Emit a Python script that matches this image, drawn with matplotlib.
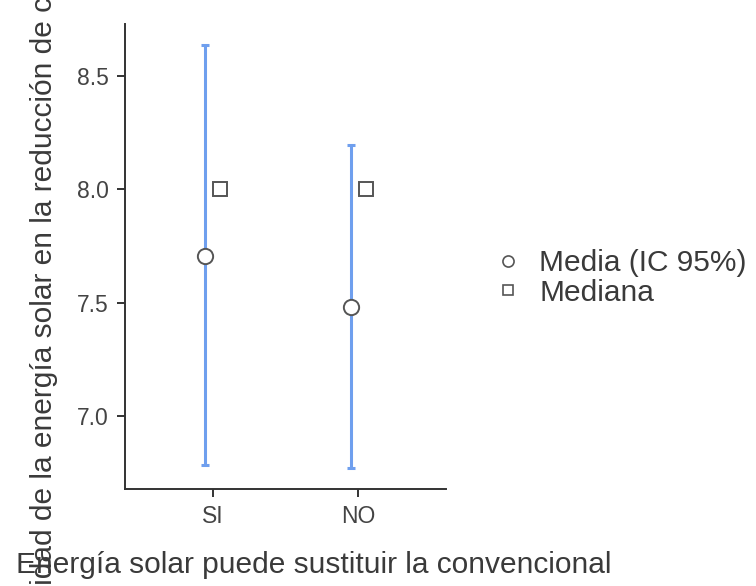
import numpy as np
import matplotlib
matplotlib.use("Agg")
import matplotlib.pyplot as plt
from matplotlib.lines import Line2D

plt.rcParams['font.family'] = ['Liberation Sans', 'DejaVu Sans']

# data
categories = ['SI', 'NO']
means = [7.707, 7.482]
ci_low = [6.782, 6.768]
ci_high = [8.637, 8.196]
medians = [8.0, 8.0]

xlabel = 'Energía solar puede sustituir la convencional'
ylabel = 'Utilidad de la energía solar en la reducción de costos'

text_col = '#3a3a3a'
line_col = '#6f9fee'
edge_col = '#555555'

fig = plt.figure(figsize=(7.56, 5.86), dpi=100)
ax = fig.add_axes([0.1653, 0.1655, 0.4246, 0.7935])

x = np.arange(len(categories))
m = np.array(means)
err = np.vstack([m - np.array(ci_low), np.array(ci_high) - m])

ax.errorbar(x - 0.052, m, yerr=err, fmt='none', ecolor=line_col,
            elinewidth=2.2, capsize=2.8, capthick=2.2, zorder=2)
ax.plot(x - 0.052, m, 'o', ms=11, mfc='white', mec=edge_col, mew=1.4, zorder=3)
ax.plot(x + 0.05, medians, 's', ms=9.5, mfc='white', mec=edge_col, mew=1.4,
        zorder=3)

ax.set_xlim(-0.6, 1.6)
ax.set_ylim(6.677, 8.73)
ax.set_xticks(x)
ax.set_xticklabels(categories)
ax.set_yticks([7.0, 7.5, 8.0, 8.5])
ax.set_yticklabels(['7.0', '7.5', '8.0', '8.5'])

for side in ['top', 'right']:
    ax.spines[side].set_visible(False)
for side in ['left', 'bottom']:
    ax.spines[side].set_color('#333333')
    ax.spines[side].set_linewidth(1.4)
ax.tick_params(axis='both', colors='#333333', width=1.4, length=5.5,
               labelsize=16.5, labelcolor='#444444', pad=6)

fig.text(314 / 756, 1 - 565 / 586, xlabel, ha='center', va='center',
         fontsize=21.5, color=text_col)
fig.text(44 / 756, 0.528, ylabel, ha='center', va='center', rotation=90,
         fontsize=21.5, color=text_col)

handles = [
    Line2D([], [], ls='none', marker='o', ms=8, mfc='white', mec=edge_col,
           mew=1.2),
    Line2D([], [], ls='none', marker='s', ms=7.5, mfc='white', mec=edge_col,
           mew=1.2),
]
fig.legend(handles, ['Media (IC 95%)', 'Mediana'], loc='center left',
           bbox_to_anchor=(478 / 756, 1 - 278 / 586), frameon=False,
           fontsize=21.5, labelcolor=text_col, handlelength=1.0,
           handletextpad=0.55, labelspacing=0.05, borderpad=0)

fig.savefig('out.png', dpi=100)
